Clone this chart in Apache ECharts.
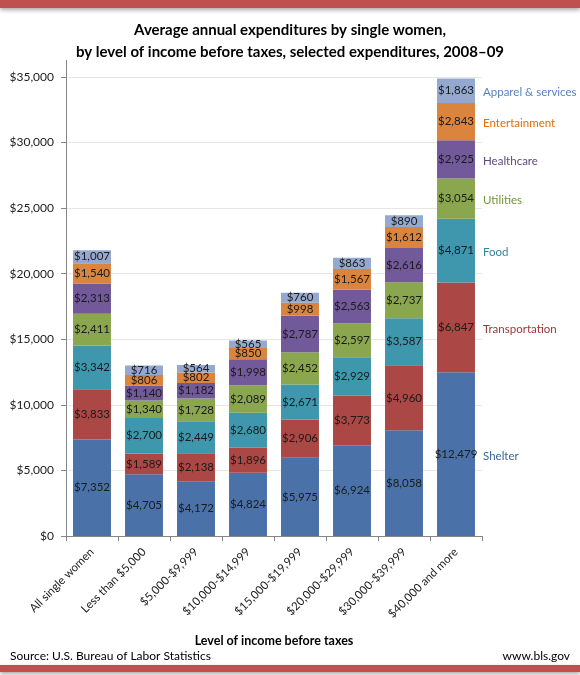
<!DOCTYPE html>
<html>
<head>
<meta charset="utf-8">
<script src="https://cdn.jsdelivr.net/npm/echarts@6/dist/echarts.min.js"></script>
<style>
  html, body { margin: 0; padding: 0; background: #fff; }
  #chart { width: 580px; height: 675px; }
</style>
</head>
<body>
<div id="chart"></div>
<script>
var categories = ['All single women', 'Less than $5,000', '$5,000-$9,999', '$10,000-$14,999',
    '$15,000-$19,999', '$20,000-$29,999', '$30,000-$39,999', '$40,000 and more'];

var shelter = [7352, 4705, 4172, 4824, 5975, 6924, 8058, 12479];
var transportation = [3833, 1589, 2138, 1896, 2906, 3773, 4960, 6847];
var food = [3342, 2700, 2449, 2680, 2671, 2929, 3587, 4871];
var utilities = [2411, 1340, 1728, 2089, 2452, 2597, 2737, 3054];
var healthcare = [2313, 1140, 1182, 1998, 2787, 2563, 2616, 2925];
var entertainment = [1540, 806, 802, 850, 998, 1567, 1612, 2843];
var apparel = [1007, 716, 564, 565, 760, 863, 890, 1863];

var seriesNames = ['Shelter', 'Transportation', 'Food', 'Utilities', 'Healthcare', 'Entertainment', 'Apparel & services'];
var seriesData = [shelter, transportation, food, utilities, healthcare, entertainment, apparel];
var barColors = ['#4A72A8', '#AB4744', '#3F97AE', '#8AA64F', '#72599A', '#DB843D', '#94A9D0'];
var nameColors = ['#3A6597', '#963836', '#31849B', '#76923C', '#5F497A', '#E46C0A', '#5A82C0'];

var yTicks = [0, 5000, 10000, 15000, 20000, 25000, 30000, 35000];

var font = 'Lato';

function money(v) {
    return '$' + String(v).replace(/\B(?=(\d{3})+(?!\d))/g, ',');
}

var myChart = echarts.init(document.getElementById('chart'));

// running total under each series, for the names on the right of the last bar
var last = categories.length - 1;
var base = 0;
var series = [];
for (var i = 0; i < seriesData.length; i++) {
    var v = seriesData[i][last];
    series.push({
        name: seriesNames[i],
        type: 'bar',
        stack: 'total',
        barCategoryGap: '27%',
        data: seriesData[i],
        itemStyle: { color: barColors[i] },
        label: {
            show: true,
            position: 'inside',
            color: '#1b1b1b',
            fontFamily: font,
            fontSize: 11.5,
            formatter: function (p) { return money(p.value); }
        },
        markPoint: {
            symbol: 'circle',
            symbolSize: 0,
            silent: true,
            data: [{ coord: [last, base + v / 2] }],
            label: {
                show: true,
                position: 'right',
                distance: 27,
                offset: [0, 2],
                color: nameColors[i],
                fontFamily: font,
                fontSize: 11.5,
                formatter: seriesNames[i]
            }
        }
    });
    base += v;
}

var option = {
    backgroundColor: '#fff',
    animation: false,
    title: {
        text: 'Average annual expenditures by single women,\nby level of income before taxes, selected expenditures, 2008\u201309',
        left: 'center',
        top: 14,
        textStyle: {
            fontFamily: font,
            fontWeight: 'bold',
            fontSize: 15,
            lineHeight: 22,
            color: '#000'
        }
    },
    grid: { left: 66, right: 98, top: 77, bottom: 139 },
    xAxis: {
        type: 'category',
        data: categories,
        name: 'Level of income before taxes',
        nameLocation: 'middle',
        nameGap: 98,
        nameTextStyle: { fontFamily: font, fontWeight: 'bold', fontSize: 12.5, color: '#000' },
        axisLine: { lineStyle: { color: '#868686' } },
        axisTick: { show: true, length: 5, lineStyle: { color: '#868686' } },
        axisLabel: {
            rotate: 45,
            interval: 0,
            margin: 14,
            fontFamily: font,
            fontSize: 11.5,
            color: '#1b1b1b'
        }
    },
    yAxis: {
        type: 'value',
        min: yTicks[0],
        max: yTicks[yTicks.length - 1],
        interval: 5000,
        axisLine: { show: true, lineStyle: { color: '#868686' } },
        axisTick: { show: true, length: 5, lineStyle: { color: '#868686' } },
        splitLine: { lineStyle: { color: '#E6E6E6' } },
        axisLabel: {
            fontFamily: font,
            fontSize: 12,
            color: '#1b1b1b',
            margin: 12,
            formatter: function (v) { return money(v); }
        }
    },
    series: series,
    graphic: [
        // red strip at the top, with a soft shadow
        { type: 'rect', shape: { x: 0, y: 0, width: 580, height: 8 },
          style: { fill: '#C0504D', shadowBlur: 4, shadowColor: 'rgba(0,0,0,0.35)', shadowOffsetY: 2 } },
        // red strip at the bottom
        { type: 'rect', shape: { x: 0, y: 665, width: 580, height: 7 },
          style: { fill: '#C0504D', shadowBlur: 4, shadowColor: 'rgba(0,0,0,0.35)', shadowOffsetY: 2 } },
        // y axis line continues above the $35,000 tick
        { type: 'line', shape: { x1: 66.5, y1: 60, x2: 66.5, y2: 77 },
          style: { stroke: '#868686', lineWidth: 1 } },
        { type: 'text', left: 10, top: 650,
          style: { text: 'Source: U.S. Bureau of Labor Statistics', fontFamily: font, fontSize: 12, fill: '#000' } },
        { type: 'text', right: 10, top: 650,
          style: { text: 'www.bls.gov', fontFamily: font, fontSize: 12, fill: '#000' } }
    ]
};

myChart.setOption(option);
</script>
</body>
</html>
